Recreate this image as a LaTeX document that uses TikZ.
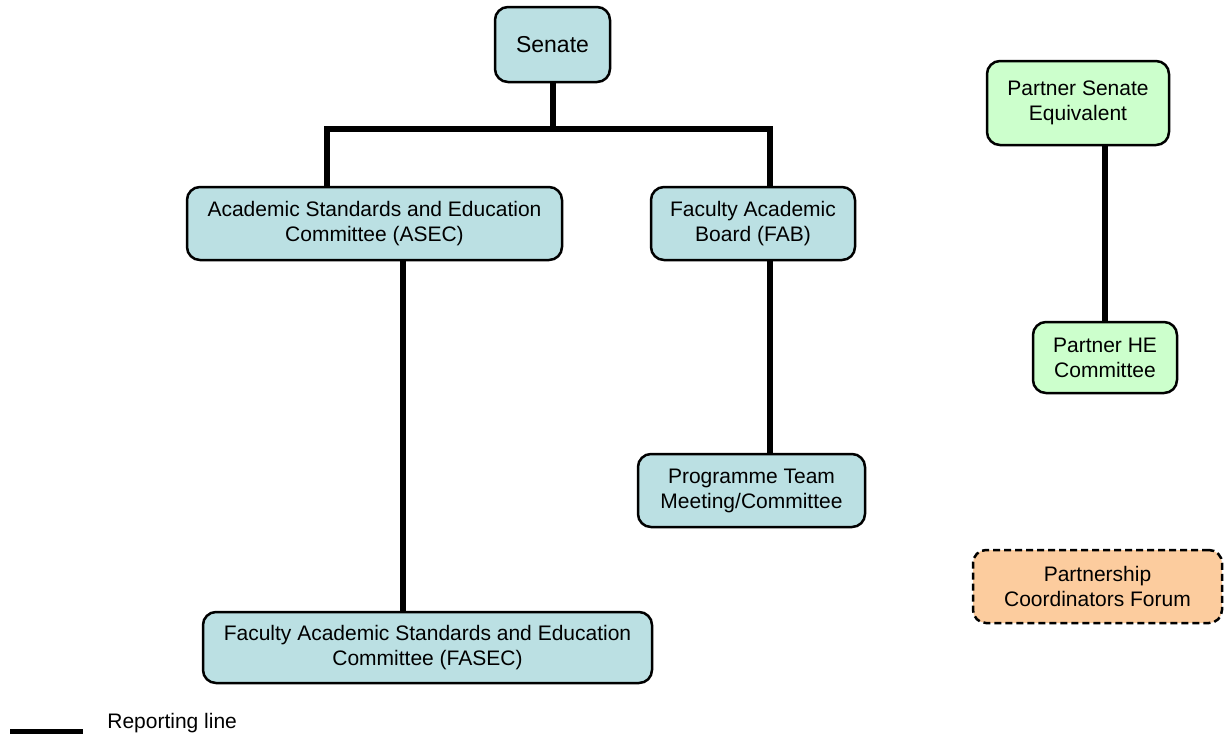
\documentclass[tikz,border=0pt]{standalone}
\usepackage{fontspec}
\setmainfont{Liberation Sans}
\definecolor{uniblue}{RGB}{187,224,227}
\definecolor{partnergreen}{RGB}{204,255,204}
\definecolor{forumorange}{RGB}{252,204,158}
\tikzset{every picture/.style={line width=0.75pt}}
\begin{document}
\begin{tikzpicture}[x=1pt,y=1pt,yscale=-1,xscale=1,
  box/.style={draw=black, line width=2.5pt, rounded corners=13pt, align=center,
    inner sep=0pt, font=\fontsize{21}{25}\selectfont},
  unibox/.style={box, fill=uniblue},
  partnerbox/.style={box, fill=partnergreen},
  forumbox/.style={box, fill=forumorange, dash pattern=on 7pt off 4pt},
  reportline/.style={line width=6pt, line join=miter}]

%set diagram to the size of the reference
\useasboundingbox (0,0) rectangle (1224,742);

% Text Node
\node [unibox, minimum width=115, minimum height=75, font=\fontsize{23}{27}\selectfont] (senate) at (552.5,44.5) {Senate};
% Text Node
\node [unibox, minimum width=375, minimum height=73] (asec) at (374.5,223.5) {Academic Standards and Education\\Committee (ASEC)};
% Text Node
\node [unibox, minimum width=204, minimum height=73] (fab) at (753,223.5) {Faculty Academic\\Board (FAB)};
% Text Node
\node [unibox, minimum width=449, minimum height=71] (fasec) at (427.5,647.5) {Faculty Academic Standards and Education\\Committee (FASEC)};
% Text Node
\node [unibox, minimum width=227, minimum height=73] (prog) at (751.5,490.5) {Programme Team\\Meeting/Committee};
% Text Node
\node [partnerbox, minimum width=182, minimum height=84] (pse) at (1078,103) {Partner Senate\\Equivalent};
% Text Node
\node [partnerbox, minimum width=144, minimum height=71] (phe) at (1105,357.5) {Partner HE\\Committee};
% Text Node
\node [forumbox, minimum width=249, minimum height=73] (forum) at (1097.5,586.5) {Partnership\\Coordinators Forum};

% bus under Senate
\coordinate (busL) at (327,128.5);
\coordinate (busR) at (770,128.5);

% Connection
\draw [reportline] (senate.south) -- (senate.south |- busL);
% Connection
\draw [reportline] (busL |- asec.north) -- (busL) -- (busR) -- (busR |- fab.north);
% Connection
\draw [reportline] (403,0 |- asec.south) -- (403,0 |- fasec.north);
% Connection
\draw [reportline] (fab.south -| busR) -- (prog.north -| busR);
% Connection
\draw [reportline] (1105,0 |- pse.south) -- (phe.north);

% Legend
\coordinate (legA) at (10,731);
\coordinate (legB) at (83,731);
\draw [line width=5pt] (legA) -- (legB);
\node [anchor=base west, inner sep=0pt, font=\fontsize{21}{25}\selectfont] (legtext) at (107,728) {Reporting line};

\end{tikzpicture}
\end{document}
